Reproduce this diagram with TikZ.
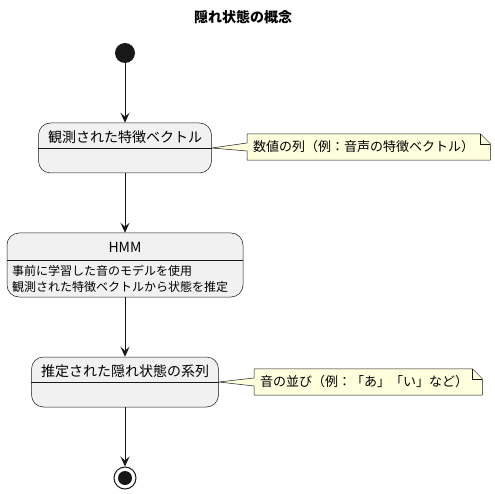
\documentclass[tikz,border=0pt]{standalone}
\usepackage{fontspec}
\setmainfont{Noto Sans CJK JP}
\usetikzlibrary{arrows.meta,calc,backgrounds}

\definecolor{linegray}{HTML}{181818}
\definecolor{statefill}{HTML}{F1F1F1}
\definecolor{notefill}{HTML}{FEFFDD}

\tikzset{
	statebox/.style={draw=linegray,fill=statefill,line width=0.5pt,rounded corners=12pt,inner sep=0pt},
	notebox/.style={inner xsep=6pt,inner ysep=0pt,minimum height=26pt,anchor=west,align=left,font=\fontsize{13}{15}\selectfont},
	notepath/.style={draw=linegray,fill=notefill,line width=0.5pt},
	trans/.style={draw=linegray,line width=1pt,-{Stealth[length=10pt,width=9pt,inset=4pt]}},
}

\begin{document}
\begin{tikzpicture}[x=1pt,y=-1pt]
			\useasboundingbox (0,0) rectangle (495,494);
			
			\node[font=\bfseries\fontsize{14}{16}\selectfont] (titel) at (243,17) {隠れ状態の概念};
			\node[circle,fill=linegray,minimum size=20pt,inner sep=0pt] (start) at (125,53) {};
			
			% Zustaende
			\node[statebox,minimum width=173pt,minimum height=50pt] (obs) at (125,148) {};
			\node[font=\fontsize{14}{16}\selectfont] (obsname) at (125,137) {観測された特徴ベクトル};
			\draw[linegray,line width=0.5pt] (obs.west) -- (obs.east);
			
			\node[statebox,minimum width=236pt,minimum height=64pt] (hmm) at (125,265) {};
			\node[font=\fontsize{14}{16}\selectfont] (hmmname) at (125,247) {HMM};
			\draw[linegray,line width=0.5pt] ($(hmm.west)+(0,-5)$) -- ($(hmm.east)+(0,-5)$);
			\node[anchor=west,align=left,inner sep=0pt,font=\fontsize{12}{15.7}\selectfont] (hmmtext) at (12,279)
			{事前に学習した音のモデルを使用\\観測された特徴ベクトルから状態を推定};
			
			\node[statebox,minimum width=187pt,minimum height=50pt] (seq) at (125,382) {};
			\node[font=\fontsize{14}{16}\selectfont] (seqname) at (125,371) {推定された隠れ状態の系列};
			\draw[linegray,line width=0.5pt] (seq.west) -- (seq.east);
			
			\node[circle,draw=linegray,line width=1pt,fill=white,minimum size=22pt,inner sep=0pt] (ende) at (125,478) {};
			\fill[linegray] (ende.center) circle (7pt);
			
			% Uebergaenge
			\draw[trans] (start) -- (obs);
			\draw[trans] (obs) -- (hmm);
			\draw[trans] (hmm) -- (seq);
			\draw[trans] (seq) -- (ende);
			
			% Notizen
			\node[notebox,text width=231pt] (obsnote) at (247,147) {数値の列（例：音声の特徴ベクトル）};
			\node[notebox,text width=216pt] (seqnote) at (254,382) {音の並び（例：「あ」「い」など）};
			\begin{pgfonlayer}{background}
				\path[notepath] (obsnote.north west) -- ($(obsnote.north east)+(-10,0)$) -- ($(obsnote.north east)+(0,10)$)
				-- (obsnote.south east) -- (obsnote.south west) -- ($(obsnote.west)+(0,4)$) -- (obs.east)
				-- ($(obsnote.west)+(0,-4)$) -- cycle;
				\draw[linegray,line width=0.5pt] ($(obsnote.north east)+(-10,0)$) -- ($(obsnote.north east)+(-10,10)$) -- ($(obsnote.north east)+(0,10)$);
				\path[notepath] (seqnote.north west) -- ($(seqnote.north east)+(-10,0)$) -- ($(seqnote.north east)+(0,10)$)
				-- (seqnote.south east) -- (seqnote.south west) -- ($(seqnote.west)+(0,4)$) -- (seq.east)
				-- ($(seqnote.west)+(0,-4)$) -- cycle;
				\draw[linegray,line width=0.5pt] ($(seqnote.north east)+(-10,0)$) -- ($(seqnote.north east)+(-10,10)$) -- ($(seqnote.north east)+(0,10)$);
			\end{pgfonlayer}
			
		\end{tikzpicture}
\end{document}
